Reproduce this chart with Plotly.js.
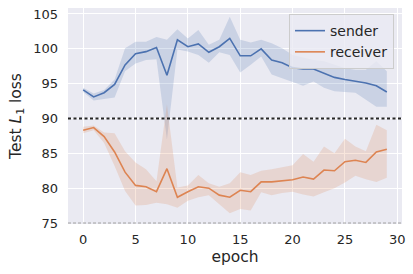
<!DOCTYPE html>
<html>
<head>
<meta charset="utf-8">
<script src="https://cdn.plot.ly/plotly-3.0.1.min.js"></script>
<style>html,body{margin:0;padding:0;background:#fff;}#chart{width:413px;height:274px;}</style>
</head>
<body>
<div id="chart"></div>
<script>
const epochs = [0,1,2,3,4,5,6,7,8,9,10,11,12,13,14,15,16,17,18,19,20,21,22,23,24,25,26,27,28,29];

const senderMean  = [94.1,93.1,93.7,94.9,97.7,99.3,99.6,100.2,96.2,101.3,100.3,100.7,99.5,100.3,101.5,99.0,99.0,100.0,98.4,98.0,97.3,97.1,97.1,96.5,95.9,95.6,95.4,95.1,94.7,93.8];
const senderUpper = [94.4,93.6,94.1,95.6,100.1,101.0,101.0,101.7,101.3,102.8,101.5,102.7,100.6,101.3,104.6,101.3,100.9,101.3,100.8,100.1,99.1,98.7,98.4,98.2,97.7,97.2,97.0,97.0,98.2,96.8];
const senderLower = [93.8,92.6,92.8,93.0,96.8,97.9,98.4,98.5,87.0,99.9,99.6,99.1,98.0,99.5,99.1,96.6,97.7,98.9,96.3,95.8,95.2,94.7,95.3,94.4,93.9,93.8,93.7,92.7,91.7,91.7];

const receiverMean  = [88.3,88.7,87.4,85.2,82.3,80.4,80.2,79.5,82.8,78.7,79.5,80.2,80.0,79.0,78.7,79.7,79.5,80.9,80.9,81.1,81.2,81.6,81.3,82.6,82.5,83.8,84.0,83.7,85.2,85.6];
const receiverUpper = [88.8,89.0,88.0,87.9,85.3,83.7,82.7,81.0,92.0,80.1,80.4,81.9,80.7,80.2,80.7,82.3,81.9,82.5,82.7,83.0,83.3,84.9,83.8,86.0,85.0,87.1,86.0,85.3,89.1,88.3];
const receiverLower = [87.9,88.3,86.5,83.2,79.6,77.5,77.6,77.9,77.7,77.2,78.2,78.7,79.0,77.7,76.4,77.0,76.8,79.4,79.0,79.3,79.5,79.1,78.8,79.4,80.0,80.8,81.8,81.3,80.9,81.5];

const refLevel = 90;
const baseLevel = 75;
const yTicks = [75,80,85,90,95,100,105];
const xTicks = [0,5,10,15,20,25,30];

const BLUE = '#4C72B0', ORANGE = '#DD8452';
const BLUE_FILL = 'rgba(76,114,176,0.2)', ORANGE_FILL = 'rgba(221,132,82,0.2)';

function band(x, lo, hi, fill) {
  return [
    {x: x, y: lo, mode: 'lines', line: {width: 0, color: 'rgba(0,0,0,0)'}, showlegend: false, hoverinfo: 'skip'},
    {x: x, y: hi, mode: 'lines', line: {width: 0, color: 'rgba(0,0,0,0)'}, fill: 'tonexty', fillcolor: fill, showlegend: false, hoverinfo: 'skip'}
  ];
}

const data = [].concat(
  band(epochs, senderLower, senderUpper, BLUE_FILL),
  band(epochs, receiverLower, receiverUpper, ORANGE_FILL),
  [
    {x: epochs, y: senderMean, mode: 'lines', name: 'sender', line: {color: BLUE, width: 1.6}},
    {x: epochs, y: receiverMean, mode: 'lines', name: 'receiver', line: {color: ORANGE, width: 1.6}}
  ]
);

const fontFam = 'DejaVu Sans, sans-serif';
const layout = {
  width: 413, height: 274,
  margin: {l: 68, r: 11, t: 8, b: 50},
  paper_bgcolor: '#ffffff',
  plot_bgcolor: '#EAEAF2',
  font: {family: fontFam, size: 13, color: '#262626'},
  showlegend: true,
  legend: {
    x: 0.976, xanchor: 'right', y: 0.972, yanchor: 'top',
    traceorder: 'normal',
    bgcolor: 'rgba(234,234,242,0.8)', bordercolor: '#CCCCCC', borderwidth: 1,
    font: {family: fontFam, size: 14, color: '#262626'},
    tracegroupgap: 0
  },
  xaxis: {
    range: [-1.45, 30.45],
    tickvals: xTicks, ticktext: xTicks.map(String),
    showgrid: true, gridcolor: '#ffffff', gridwidth: 1,
    zeroline: false, showline: false, ticks: '',
    ticklabelstandoff: 6,
    tickfont: {size: 13},
    title: {text: 'epoch', font: {size: 15.5}, standoff: 5}
  },
  yaxis: {
    range: [74.86, 105.86],
    tickvals: yTicks, ticktext: yTicks.map(String),
    showgrid: true, gridcolor: '#ffffff', gridwidth: 1,
    zeroline: false, showline: false, ticks: '',
    ticklabelstandoff: 9,
    tickfont: {size: 13},
    title: {text: 'Test <i>L</i><sub>1</sub> loss', font: {size: 15.5}, standoff: 7}
  },
  shapes: [
    {type: 'line', xref: 'paper', x0: 0, x1: 1, yref: 'y', y0: refLevel, y1: refLevel,
     line: {color: '#262626', width: 2, dash: '3px,2.5px'}, layer: 'above'},
    {type: 'line', xref: 'paper', x0: 0, x1: 1, yref: 'y', y0: baseLevel, y1: baseLevel,
     line: {color: '#A0A0A0', width: 1, dash: '3px,2px'}, layer: 'above'}
  ]
};

Plotly.newPlot('chart', data, layout, {staticPlot: true, displayModeBar: false});
</script>
</body>
</html>
